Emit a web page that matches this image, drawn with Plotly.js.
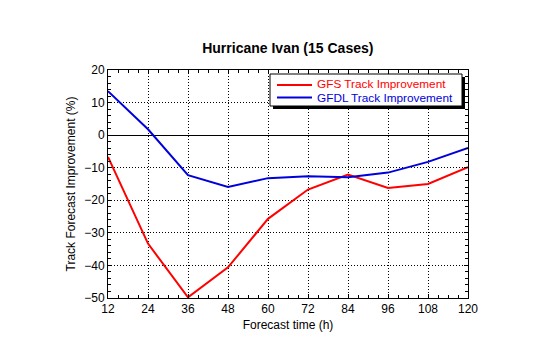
<!DOCTYPE html>
<html><head><meta charset="utf-8">
<script src="https://cdn.plot.ly/plotly-3.0.1.min.js"></script>
<style>html,body{margin:0;padding:0;background:#fff}#chart{width:540px;height:344px}</style>
</head><body><div id="chart"></div>
<script>
var hours = [12, 24, 36, 48, 60, 72, 84, 96, 108, 120];
var gfs = [-6.7, -33.3, -49.8, -40.6, -25.7, -16.7, -12.1, -16.2, -15.0, -9.8];
var gfdl = [13.5, 1.8, -12.3, -15.9, -13.2, -12.6, -12.9, -11.5, -8.2, -3.9];
var seriesNames = ['GFS Track Improvement', 'GFDL Track Improvement'];
var seriesColors = ['#ff0000', '#0000dd'];

var L = 108, R = 468, T = 70, B = 298;
function px(x){ return (x - L) / (R - L); }
function py(y){ return (B - y) / (B - T); }

var font = 'Liberation Sans, Arial, sans-serif';
var traces = [
  {x: hours, y: gfs, type: 'scatter', mode: 'lines', name: seriesNames[0], line: {color: seriesColors[0], width: 2}},
  {x: hours, y: gfdl, type: 'scatter', mode: 'lines', name: seriesNames[1], line: {color: seriesColors[1], width: 2}}
];

var axisCommon = {
  showline: true, linecolor: '#000', linewidth: 1, mirror: 'allticks',
  ticks: 'inside', ticklen: 4, tickcolor: '#000',
  showgrid: true, gridcolor: '#000', griddash: '1px,2px', gridwidth: 1,
  tickfont: {family: font, size: 12, color: '#000'}
};

var legendText = seriesNames.map(function(n, i){
  return '<span style="color:' + seriesColors[i] + ';font-size:11.8px">' + n + '</span>';
}).join('<br>');

var layout = {
  width: 540, height: 344,
  margin: {l: L, r: 540 - R, t: T, b: 344 - B},
  paper_bgcolor: '#fff', plot_bgcolor: '#fff',
  showlegend: false,
  title: {text: 'Hurricane Ivan (15 Cases)', font: {family: font, size: 14, color: '#000', weight: 'bold'},
          x: 0.533, xanchor: 'center', y: 1 - 48/344, yanchor: 'middle'},
  xaxis: Object.assign({}, axisCommon, {
    range: [12, 120], tickvals: hours, ticktext: hours.map(String), zeroline: false,
    minor: {dtick: 3, tick0: 12, ticks: 'inside', ticklen: 3, tickcolor: '#000', showgrid: false},
    title: {text: 'Forecast time (h)', font: {family: font, size: 12, color: '#000'}, standoff: 5}
  }),
  yaxis: Object.assign({}, axisCommon, {
    range: [-50, 20], dtick: 10, zeroline: true, zerolinecolor: '#000', zerolinewidth: 1,
    minor: {dtick: 2, ticks: 'inside', ticklen: 3, tickcolor: '#000', showgrid: false},
    title: {text: 'Track Forecast Improvement (%)', font: {family: font, size: 12, color: '#000'}, standoff: 6}
  }),
  shapes: [
    {type: 'rect', xref: 'paper', yref: 'paper', x0: px(273), x1: px(465), y0: py(77), y1: py(109),
     fillcolor: '#000', line: {width: 0}, layer: 'above'},
    {type: 'rect', xref: 'paper', yref: 'paper', x0: px(270), x1: px(462), y0: py(74), y1: py(106),
     fillcolor: '#fff', line: {color: '#000', width: 1}, layer: 'above'},
    {type: 'line', xref: 'paper', yref: 'paper', x0: px(277), x1: px(312), y0: py(85), y1: py(85),
     line: {color: seriesColors[0], width: 2}, layer: 'above'},
    {type: 'line', xref: 'paper', yref: 'paper', x0: px(277), x1: px(312), y0: py(97.5), y1: py(97.5),
     line: {color: seriesColors[1], width: 2}, layer: 'above'}
  ],
  annotations: [
    {xref: 'paper', yref: 'paper', x: px(315), y: py(91.3), xanchor: 'left', yanchor: 'middle', showarrow: false,
     align: 'left', text: legendText, font: {family: font, size: 10.5, color: '#000'}}
  ]
};
Plotly.newPlot('chart', traces, layout, {displayModeBar: false, staticPlot: true});
</script></body></html>
